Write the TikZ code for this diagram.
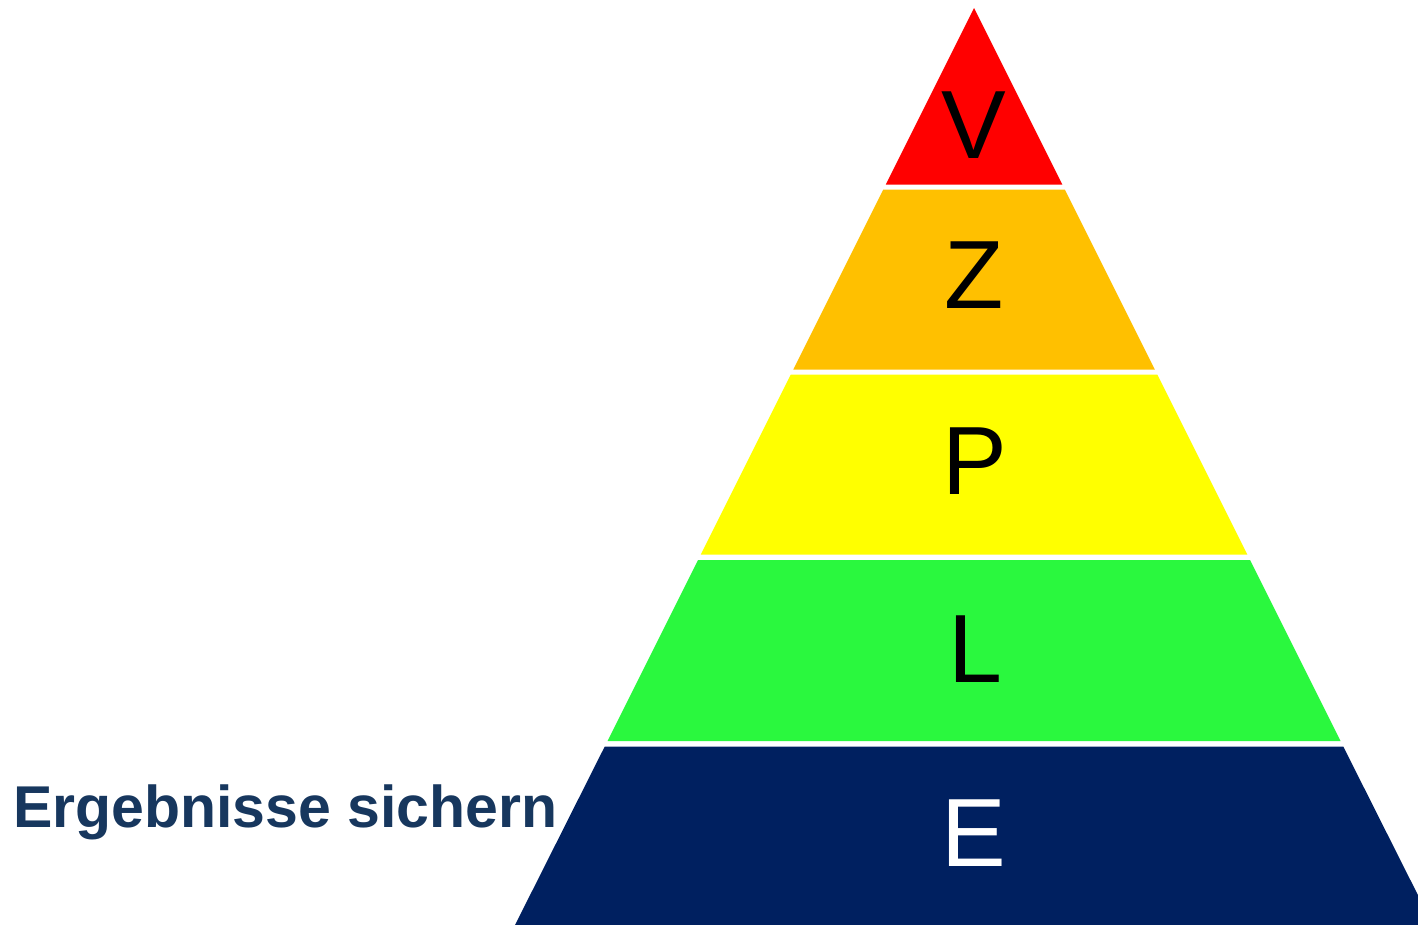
\documentclass[tikz,border=0pt]{standalone}
\usepackage{fontspec}
\setmainfont{Liberation Sans}
\definecolor{lvred}{HTML}{FF0000}
\definecolor{lvorange}{HTML}{FFC000}
\definecolor{lvyellow}{HTML}{FFFF00}
\definecolor{lvgreen}{HTML}{2AF83E}
\definecolor{lvnavy}{HTML}{002060}
\definecolor{lvtext}{HTML}{17375E}
\tikzset{
  letter/.style={anchor=base, inner sep=0pt, font=\fontsize{97}{97}\selectfont},
  sidelabel/.style={anchor=base west, inner sep=0pt, text=lvtext, font=\fontsize{59}{59}\selectfont\bfseries}
}
\begin{document}
\begin{tikzpicture}[x=1pt,y=-1pt]
\useasboundingbox (0,0) rectangle (1418,924);
\clip (0,0) rectangle (1418,924);
% layers of the pyramid (half width = (y-8)/2 about x=974)
\fill[lvred] (974,8) -- (1062.25,184.5) -- (885.75,184.5) -- cycle;
\fill[lvorange] (883.25,189.5) -- (1064.75,189.5) -- (1154.75,369.5) -- (793.25,369.5) -- cycle;
\fill[lvyellow] (790.75,374.5) -- (1157.25,374.5) -- (1247.25,554.5) -- (700.75,554.5) -- cycle;
\fill[lvgreen] (698,560) -- (1250,560) -- (1340.5,741) -- (607.5,741) -- cycle;
\fill[lvnavy] (604.75,746.5) -- (1343.25,746.5) -- (1436,931) -- (512,931) -- cycle;
% letters
\node[letter] (v) at (974,158) {V};
\node[letter] (z) at (974,308) {Z};
\node[letter] (p) at (975,494) {P};
\node[letter] (l) at (975,682) {L};
\node[letter, text=white] (e) at (974,866) {E};
% side label
\node[sidelabel] (lab) at (13,827) {Ergebnisse sichern};
\end{tikzpicture}
\end{document}
